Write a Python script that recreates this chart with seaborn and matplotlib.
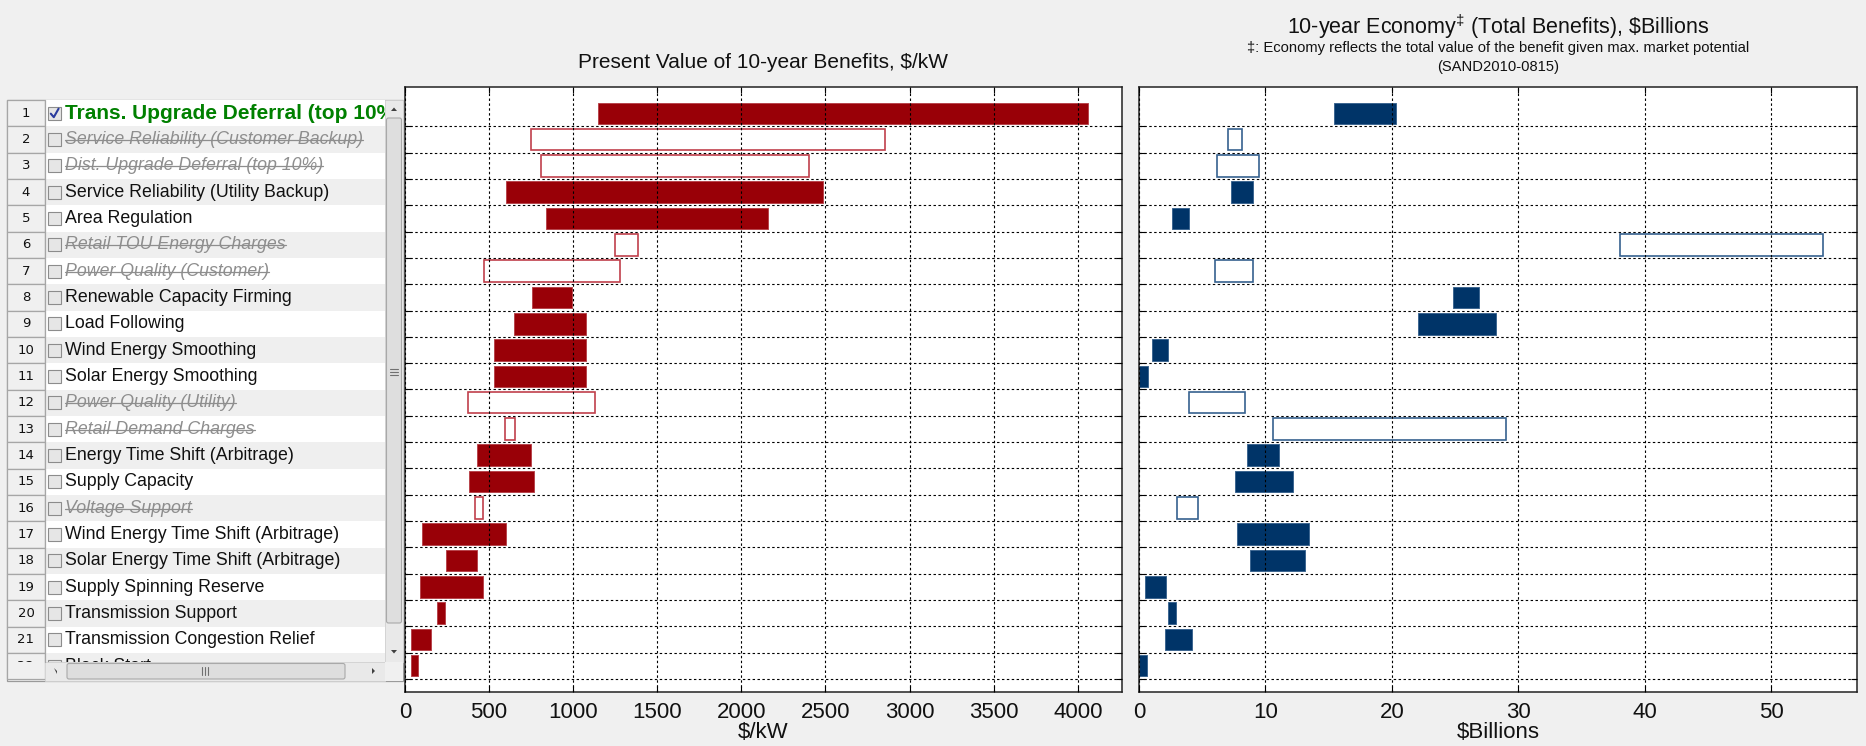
import numpy as np
import pandas as pd
import matplotlib
matplotlib.use("Agg")
import matplotlib.pyplot as plt
import seaborn as sns
from matplotlib.patches import Rectangle, Polygon, FancyBboxPatch
from matplotlib.lines import Line2D

# ---------------- data ----------------
services = [
    "Trans. Upgrade Deferral (top 10%)",
    "Service Reliability (Customer Backup)",
    "Dist. Upgrade Deferral (top 10%)",
    "Service Reliability (Utility Backup)",
    "Area Regulation",
    "Retail TOU Energy Charges",
    "Power Quality (Customer)",
    "Renewable Capacity Firming",
    "Load Following",
    "Wind Energy Smoothing",
    "Solar Energy Smoothing",
    "Power Quality (Utility)",
    "Retail Demand Charges",
    "Energy Time Shift (Arbitrage)",
    "Supply Capacity",
    "Voltage Support",
    "Wind Energy Time Shift (Arbitrage)",
    "Solar Energy Time Shift (Arbitrage)",
    "Supply Spinning Reserve",
    "Transmission Support",
    "Transmission Congestion Relief",
    "Black Start",
]
enabled = [True, False, False, True, True, False, False, True, True, True, True,
           False, False, True, True, False, True, True, True, True, True, True]
selected = [True] + [False] * 21

pv_low = [1150, 750, 810, 600, 840, 1250, 469, 758, 647, 529, 529,
          374, 592, 428, 379, 415, 101, 243, 87, 188, 33, 33]
pv_high = [4060, 2855, 2404, 2486, 2161, 1386, 1277, 990, 1078, 1078, 1078,
           1130, 655, 750, 767, 461, 603, 428, 461, 237, 156, 79]
econ_low = [15.44, 7.0, 6.17, 7.30, 2.6, 38.03, 5.99, 24.81, 22.03, 1.05, 0.0,
            3.99, 10.58, 8.51, 7.61, 3.01, 7.76, 8.81, 0.45, 2.33, 2.07, 0.0]
econ_high = [20.33, 8.17, 9.45, 9.0, 3.95, 54.1, 9.0, 26.84, 28.2, 2.30, 0.72,
             8.36, 28.99, 11.07, 12.16, 4.63, 13.40, 13.14, 2.15, 2.94, 4.22, 0.64]

pv_ticks = [0, 500, 1000, 1500, 2000, 2500, 3000, 3500, 4000]
econ_ticks = [0, 10, 20, 30, 40, 50]

left_title = "Present Value of 10-year Benefits, $/kW"
right_title = r"10-year Economy$^{‡}$ (Total Benefits), \$Billions"
right_sub1 = "‡: Economy reflects the total value of the benefit given max. market potential"
right_sub2 = "(SAND2010-0815)"
left_xlabel = "$/kW"
right_xlabel = "$Billions"

# ---------------- style ----------------
sns.set_style("white")
plt.rcParams["font.family"] = ["Liberation Sans", "DejaVu Sans"]
plt.rcParams["mathtext.fontset"] = "custom"
plt.rcParams["mathtext.rm"] = "Liberation Sans"
plt.rcParams["mathtext.it"] = "Liberation Sans:italic"
plt.rcParams["mathtext.bf"] = "Liberation Sans:bold"

W, H = 1866, 746
BG = "#f0f0f0"
fig = plt.figure(figsize=(W / 100, H / 100), dpi=100, facecolor=BG)


def fax(x0, y0, x1, y1):
    return [x0 / W, 1 - y1 / H, (x1 - x0) / W, (y1 - y0) / H]


ax1 = fig.add_axes(fax(405, 87, 1122, 692))
ax2 = fig.add_axes(fax(1139, 87, 1857, 692))


def draw_range(ax, low, high, fill, filled_edge, hollow_edge, xmax, ticks):
    df = pd.DataFrame({"service": services,
                       "span": np.array(high) - np.array(low)})
    sns.barplot(data=df, x="span", y="service", orient="h", ax=ax,
                color=fill, width=0.82, errorbar=None, saturation=1)
    for p, lo, en in zip(ax.patches, low, enabled):
        p.set_x(lo)
        if en:
            p.set_facecolor(fill)
            p.set_edgecolor(filled_edge)
            p.set_linewidth(0.7)
        else:
            p.set_facecolor("white")
            p.set_edgecolor(hollow_edge)
            p.set_linewidth(1.2)
    ax.set_facecolor("white")
    ax.set_xlim(0, xmax)
    ax.set_ylim(22, -1)
    ax.set_xticks(ticks)
    ax.set_xticklabels([str(t) for t in ticks])
    ax.set_yticks(np.arange(0.5, 21.6, 1.0))
    ax.set_yticklabels([])
    ax.set_xlabel("")
    ax.set_ylabel("")
    ax.set_axisbelow(False)
    ax.grid(True, color="black", linestyle=(0, (2.2, 2.2)), linewidth=0.8)
    ax.tick_params(axis="both", direction="in", top=True, right=True,
                   bottom=True, left=True, length=4, width=0.8, color="black")
    ax.tick_params(axis="x", labelsize=16, pad=7, labelcolor="#111111")
    for s in ax.spines.values():
        s.set_visible(True)
        s.set_color("#222222")
        s.set_linewidth(1.1)


draw_range(ax1, pv_low, pv_high, "#990007", "#b8454c", "#c0404c", 4263, pv_ticks)
draw_range(ax2, econ_low, econ_high, "#003468", "#3c6690", "#36618f", 56.76, econ_ticks)

# titles and axis labels
fig.text(763 / W, 1 - 63 / H, left_title, ha="center", va="center",
         fontsize=15, color="#111111")
fig.text(1498 / W, 1 - 27 / H, right_title, ha="center", va="center",
         fontsize=15.5, color="#111111")
fig.text(1498 / W, 1 - 48 / H, right_sub1, ha="center", va="center",
         fontsize=10.6, color="#111111")
fig.text(1498 / W, 1 - 67 / H, right_sub2, ha="center", va="center",
         fontsize=10.6, color="#111111")
fig.text(763 / W, 1 - 733 / H, left_xlabel, ha="center", va="center",
         fontsize=16, color="#111111")
fig.text(1498 / W, 1 - 733 / H, right_xlabel, ha="center", va="center",
         fontsize=16, color="#111111")

# ---------------- left table (UI panel) ----------------
tax = fig.add_axes([0, 0, 1, 1], zorder=-1)
tax.set_xlim(0, W)
tax.set_ylim(H, 0)
tax.axis("off")
tax.patch.set_visible(False)

T_L, T_R, T_T, T_B = 7, 403, 100, 681
COL1 = 45
VS_L = 385
HS_T = 662
rowh = 26.33

tax.add_patch(Rectangle((T_L, T_T), T_R - T_L, T_B - T_T, facecolor=BG,
                        edgecolor="#9a9a9a", linewidth=0.9))
clip_rows = Rectangle((T_L, T_T), VS_L - T_L, HS_T - T_T, transform=tax.transData)
clip_text = Rectangle((COL1, T_T), VS_L - COL1, HS_T - T_T, transform=tax.transData)

texts = []
for i, name in enumerate(services):
    top = T_T + rowh * i
    cy = top + rowh / 2
    # row number cell
    r = Rectangle((T_L, top), COL1 - T_L, rowh, facecolor=BG,
                  edgecolor="#a6a6a6", linewidth=0.9)
    r.set_clip_path(clip_rows)
    tax.add_patch(r)
    t = tax.text((T_L + COL1) / 2, cy, str(i + 1), ha="center", va="center",
                 fontsize=9.5, color="#111111", family="DejaVu Sans",
                 clip_on=True)
    t.set_clip_path(clip_rows)
    # content cell
    rc = Rectangle((COL1, top), VS_L - COL1, rowh,
                   facecolor="white" if i % 2 == 0 else "#efefef",
                   edgecolor="none")
    rc.set_clip_path(clip_rows)
    tax.add_patch(rc)
    # checkbox
    cb = Rectangle((48, cy - 6.5), 13, 13, facecolor="#e6e6e6",
                   edgecolor="#8c8c8c", linewidth=0.8)
    cb.set_clip_path(clip_rows)
    tax.add_patch(cb)
    if selected[i]:
        tax.add_line(Line2D([50.8, 53.8, 58.6], [cy + 0.5, cy + 4, cy - 4.5],
                            color="#2b3c9e", linewidth=1.5))
    # label
    if selected[i]:
        t = tax.text(65, cy, name, ha="left", va="center", fontsize=15,
                     fontweight="bold", color="#008000", clip_on=True)
    elif enabled[i]:
        t = tax.text(65, cy, name, ha="left", va="center", fontsize=12.8,
                     color="#111111", clip_on=True)
    else:
        t = tax.text(65, cy, name, ha="left", va="center", fontsize=12.8,
                     color="#8e8e8e", style="italic", clip_on=True)
        texts.append((t, cy))
    t.set_clip_path(clip_text)

# column border
tax.add_line(Line2D([COL1, COL1], [T_T, HS_T], color="#a6a6a6", linewidth=0.9))

# vertical scrollbar
tax.add_patch(Rectangle((VS_L, T_T), T_R - VS_L, HS_T - T_T, facecolor="#e9e9e9",
                        edgecolor="#d0d0d0", linewidth=0.6))
tax.add_patch(FancyBboxPatch((VS_L + 1.5, 118), T_R - VS_L - 3, 505,
                             boxstyle="round,pad=0,rounding_size=2",
                             facecolor="#dedede", edgecolor="#a9a9a9", linewidth=0.8))
for dy in (-3, 0, 3):
    tax.add_line(Line2D([390, 398], [372 + dy, 372 + dy], color="#707070", linewidth=0.8))
tax.add_patch(Polygon([[391, 111], [394, 107.5], [397, 111]], closed=True,
                      facecolor="#404040", edgecolor="none"))
tax.add_patch(Polygon([[391, 650], [394, 653.5], [397, 650]], closed=True,
                      facecolor="#404040", edgecolor="none"))

# horizontal scrollbar
tax.add_patch(Rectangle((COL1, HS_T), VS_L - COL1, T_B - HS_T, facecolor="#e9e9e9",
                        edgecolor="#d0d0d0", linewidth=0.6))
tax.add_patch(FancyBboxPatch((67, HS_T + 1.5), 278, T_B - HS_T - 3.5,
                             boxstyle="round,pad=0,rounding_size=2",
                             facecolor="#dedede", edgecolor="#a9a9a9", linewidth=0.8))
for dx in (-3, 0, 3):
    tax.add_line(Line2D([205 + dx, 205 + dx], [667, 675], color="#707070", linewidth=0.8))
tax.add_patch(Polygon([[57, 671], [54, 668], [57, 674]], closed=True,
                      facecolor="#404040", edgecolor="none"))
tax.add_patch(Polygon([[372, 668], [375, 671], [372, 674]], closed=True,
                      facecolor="#404040", edgecolor="none"))
tax.add_patch(Rectangle((VS_L, HS_T), T_R - VS_L, T_B - HS_T, facecolor=BG,
                        edgecolor="none"))

# strikethrough for disabled services
fig.canvas.draw()
renderer = fig.canvas.get_renderer()
for t, cy in texts:
    bb = t.get_window_extent(renderer)
    ln = Line2D([bb.x0, min(bb.x1, VS_L)], [cy + 0.5, cy + 0.5],
                color="#8e8e8e", linewidth=0.9)
    tax.add_line(ln)

fig.savefig("out.png", dpi=100, facecolor=BG)
